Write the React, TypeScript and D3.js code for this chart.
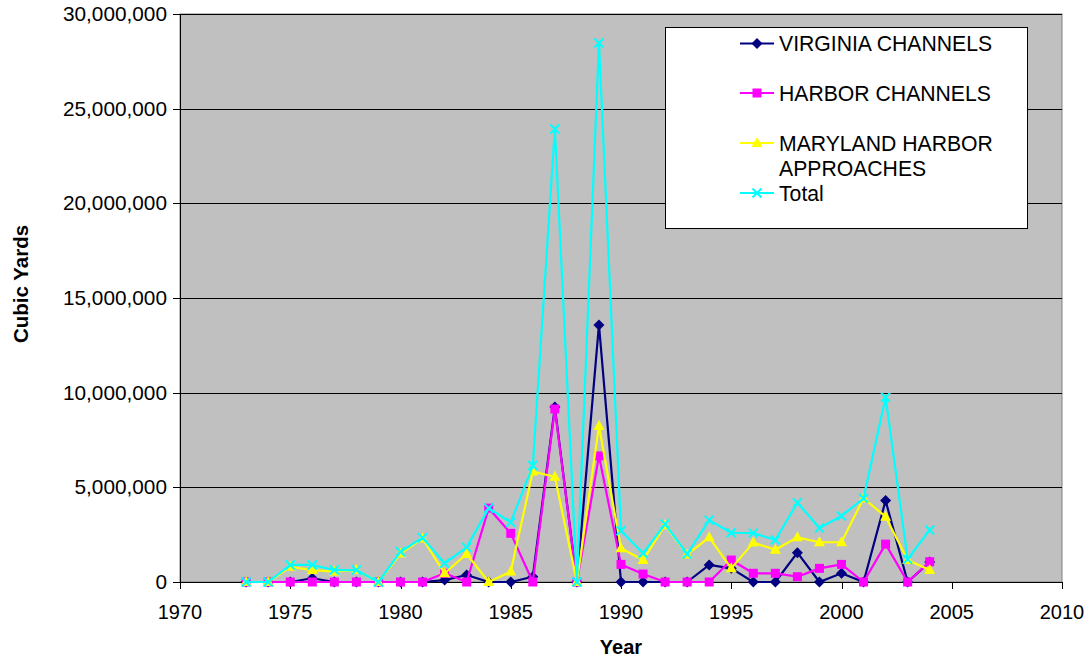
import React from "react";
import * as d3 from "d3";

const years = [
  1973, 1974, 1975, 1976, 1977, 1978, 1979, 1980, 1981, 1982, 1983, 1984, 1985, 1986, 1987, 1988,
  1989, 1990, 1991, 1992, 1993, 1994, 1995, 1996, 1997, 1998, 1999, 2000, 2001, 2002, 2003, 2004,
];

const virginia = [
  0, 0, 0, 200000, 0, 0, 0, 0, 0, 100000, 370000, 0, 0, 280000, 9240000, 0,
  13580000, 0, 0, 0, 0, 900000, 720000, 0, 0, 1550000, 0, 460000, 0, 4300000, 0, 1050000,
];

const harbor = [
  0, 0, 0, 0, 0, 0, 0, 0, 0, 460000, 0, 3900000, 2570000, 0, 9140000, 0,
  6660000, 930000, 420000, 0, 0, 0, 1160000, 460000, 460000, 280000, 720000, 930000, 0, 2000000, 0, 1070000,
];

const maryland = [
  0, 0, 800000, 630000, 550000, 640000, 0, 1500000, 2300000, 460000, 1480000, 0, 550000, 5830000, 5560000, 0,
  8240000, 1780000, 1160000, 3000000, 1450000, 2360000, 720000, 2080000, 1700000, 2360000, 2100000, 2100000, 4420000, 3450000, 1160000, 630000,
];

const total = [
  0, 0, 900000, 900000, 630000, 630000, 0, 1600000, 2340000, 990000, 1830000, 3900000, 3150000, 6150000, 23930000, 0,
  28470000, 2710000, 1520000, 3060000, 1480000, 3270000, 2600000, 2580000, 2220000, 4190000, 2850000, 3490000, 4420000, 9760000, 1200000, 2750000,
];

const xTicks = [1970, 1975, 1980, 1985, 1990, 1995, 2000, 2005, 2010];
const yTicks = [0, 5000000, 10000000, 15000000, 20000000, 25000000, 30000000];

const seriesList = [
  { name: "VIRGINIA CHANNELS", values: virginia, color: "#000080", marker: "diamond" },
  { name: "HARBOR CHANNELS", values: harbor, color: "#FF00FF", marker: "square" },
  { name: "MARYLAND HARBOR|APPROACHES", values: maryland, color: "#FFFF00", marker: "triangle" },
  { name: "Total", values: total, color: "#00FFFF", marker: "x" },
];

const FONT = "'Liberation Sans', Arial, sans-serif";

function Marker({ type, x, y, color }: { type: string; x: number; y: number; color: string }) {
  if (type === "diamond") {
    return <path d={`M${x},${y - 5.5}L${x + 5.5},${y}L${x},${y + 5.5}L${x - 5.5},${y}Z`} fill={color} />;
  }
  if (type === "square") {
    return <rect x={x - 4.5} y={y - 4.5} width={9} height={9} fill={color} />;
  }
  if (type === "triangle") {
    return <path d={`M${x},${y - 6}L${x + 5.5},${y + 4}L${x - 5.5},${y + 4}Z`} fill={color} />;
  }
  return (
    <path
      d={`M${x - 4.5},${y - 4.5}L${x + 4.5},${y + 4.5}M${x + 4.5},${y - 4.5}L${x - 4.5},${y + 4.5}`}
      stroke={color}
      strokeWidth={2}
    />
  );
}

export default function App() {
  const width = 1090;
  const height = 659;
  const left = 180;
  const right = 1062;
  const top = 14;
  const bottom = 582;

  const x = d3.scaleLinear().domain([1970, 2010]).range([left, right]);
  const y = d3.scaleLinear().domain([0, 30000000]).range([bottom, top]);
  const fmt = d3.format(",");

  const line = (vals: number[]) =>
    d3
      .line<number>()
      .x((_, i) => x(years[i]))
      .y((d) => y(d))(vals) || "";

  const legendY = [43.5, 93, 143, 193];

  return (
    <svg width={width} height={height} style={{ position: "absolute", left: 0, top: 0, fontFamily: FONT }}>
      <rect x={0} y={0} width={width} height={height} fill="#fff" />
      <rect x={left} y={top} width={right - left} height={bottom - top} fill="#C0C0C0" stroke="#808080" strokeWidth={1} />
      {yTicks.map((t) => (
        <g key={t}>
          <line x1={left} x2={right} y1={Math.round(y(t)) + 0.5} y2={Math.round(y(t)) + 0.5} stroke="#000" strokeWidth={1} />
          <line x1={left - 7} x2={left} y1={Math.round(y(t)) + 0.5} y2={Math.round(y(t)) + 0.5} stroke="#000" />
          <text x={left - 13} y={y(t) + 7} textAnchor="end" fontSize={20.8} fill="#000">
            {fmt(t)}
          </text>
        </g>
      ))}
      <line x1={left + 0.5} x2={left + 0.5} y1={top} y2={bottom} stroke="#000" />
      {xTicks.map((t) => (
        <g key={t}>
          <line x1={Math.round(x(t)) + 0.5} x2={Math.round(x(t)) + 0.5} y1={bottom} y2={bottom + 7} stroke="#000" />
          <text x={x(t)} y={619} textAnchor="middle" fontSize={20} fill="#000">
            {t}
          </text>
        </g>
      ))}
      {seriesList.map((s) => (
        <g key={s.name}>
          <path d={line(s.values)} fill="none" stroke={s.color} strokeWidth={2.2} strokeLinejoin="round" />
          {s.values.map((v, i) => (
            <Marker key={i} type={s.marker} x={x(years[i])} y={y(v)} color={s.color} />
          ))}
        </g>
      ))}
      <text x={621} y={654} textAnchor="middle" fontSize={20} fontWeight="bold" fill="#000">
        Year
      </text>
      <text
        transform={`translate(28,284) rotate(-90)`}
        textAnchor="middle"
        fontSize={20.5}
        fontWeight="bold"
        fill="#000"
      >
        Cubic Yards
      </text>
      <rect x={665.5} y={27.5} width={362} height={201} fill="#fff" stroke="#000" strokeWidth={1} />
      {seriesList.map((s, i) => {
        const ly = legendY[i];
        const parts = s.name.split("|");
        return (
          <g key={s.name}>
            <line x1={740} x2={774} y1={ly} y2={ly} stroke={s.color} strokeWidth={2} />
            <Marker type={s.marker} x={757} y={ly} color={s.color} />
            {parts.map((p, j) => (
              <text key={p} x={779} y={ly + 7.5 + j * 25} fontSize={21.2} fill="#000">
                {p}
              </text>
            ))}
          </g>
        );
      })}
    </svg>
  );
}
